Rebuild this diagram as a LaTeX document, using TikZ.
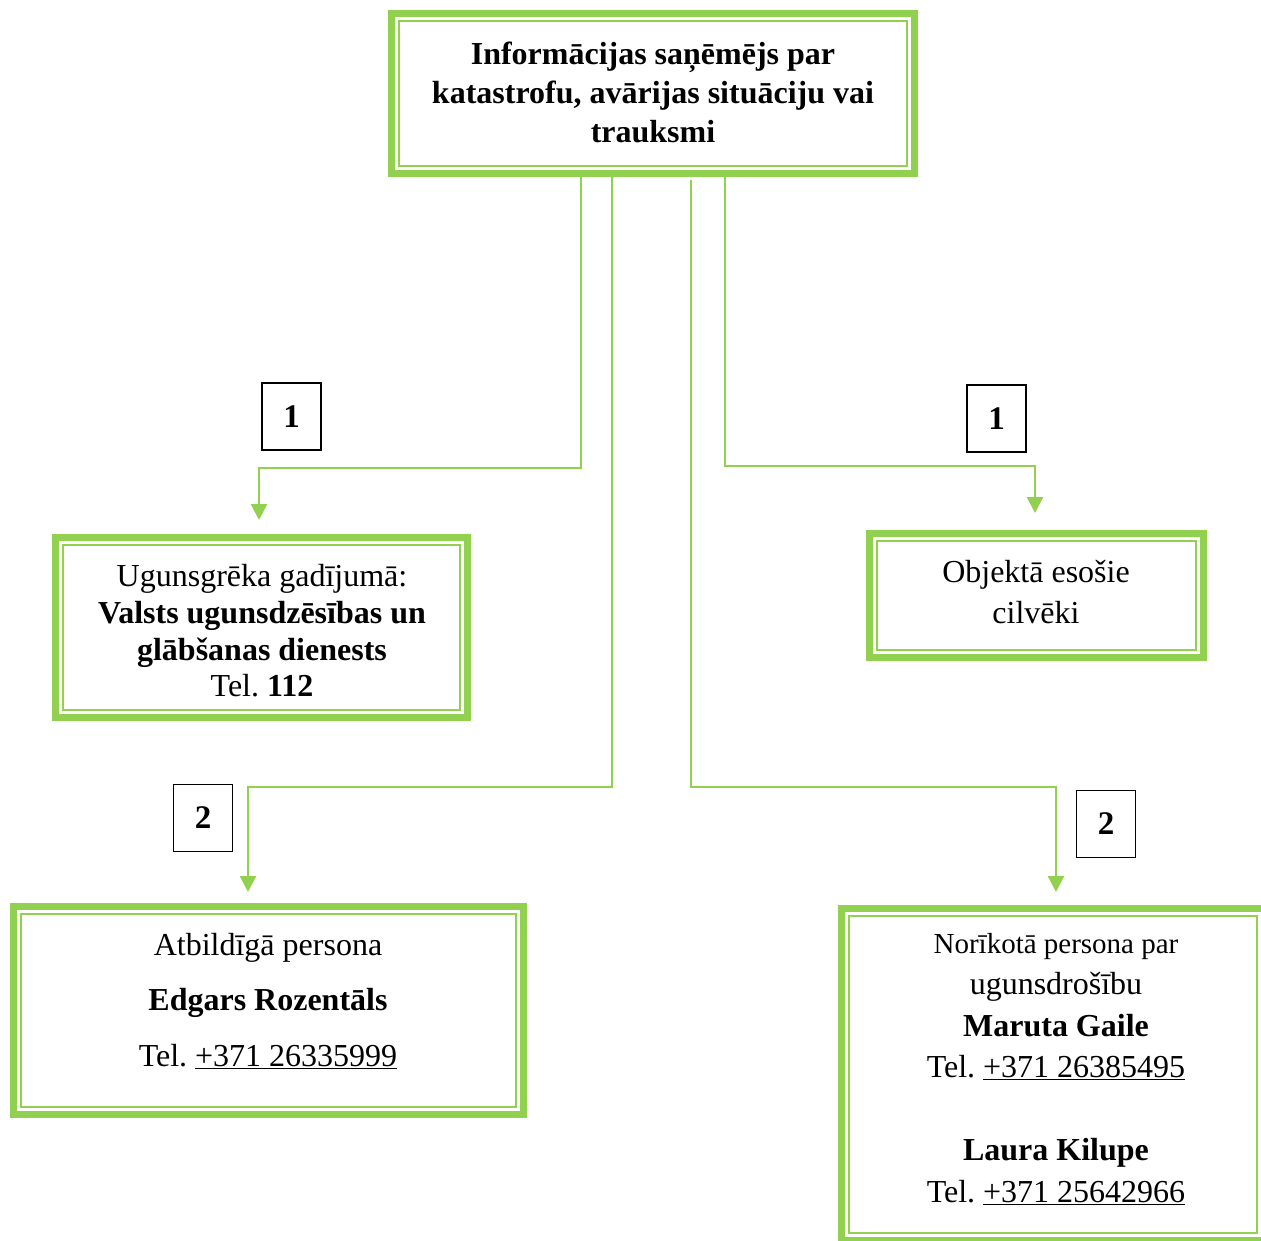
\documentclass[tikz,border=0pt]{standalone}
\usepackage{fontspec}
\setmainfont{Liberation Serif}
\usetikzlibrary{arrows.meta}
\frenchspacing
\definecolor{lgreen}{HTML}{92D050}
\tikzset{
  gbox/.style={draw=lgreen, line width=7pt, fill=white, inner sep=0pt, outer sep=0pt},
  thinframe/.style={draw=lgreen, line width=2pt},
  conn/.style={draw=lgreen, line width=2.6pt, -{Triangle[width=16pt,length=16pt]}},
  numbox/.style={draw=black, line width=1.8pt, inner sep=0pt, outer sep=0pt,
    minimum width=59pt, minimum height=67pt, font=\fontsize{33}{38}\selectfont\bfseries},
  txt/.style={align=center, inner sep=0pt, outer sep=0pt},
}
\begin{document}
\begin{tikzpicture}[x=1pt,y=-1pt]
\useasboundingbox (0,0) rectangle (1261,1240);
\clip (0,0) rectangle (1261,1240);

% boxes (frames)
\node[gbox, minimum width=523pt, minimum height=160pt] (top) at (653,93.5) {};
\node[gbox, minimum width=412pt, minimum height=180pt] (fire) at (261.5,627.5) {};
\node[gbox, minimum width=334pt, minimum height=124pt] (obj) at (1036.5,595.5) {};
\node[gbox, minimum width=510pt, minimum height=208pt] (atb) at (268.5,1010.5) {};
\node[gbox, minimum width=423pt, minimum height=332pt] (nor) at (1053,1074.5) {};

\foreach \b in {top,fire,obj,atb,nor}{
  \draw[thinframe] ([shift={(7.5,7.5)}]\b.north west) rectangle ([shift={(-7.5,-7.5)}]\b.south east);
}

% connector bend points
\coordinate (k1) at (581,468);   \coordinate (k1e) at (259,468);
\coordinate (k2) at (725,466);   \coordinate (k2e) at (1035,466);
\coordinate (k3) at (612,787);   \coordinate (k3e) at (248,787);
\coordinate (k4s) at (691,180);  \coordinate (k4) at (691,787); \coordinate (k4e) at (1056,787);

\draw[conn, shorten >=17.5pt] (top.south -| k1) -- (k1) -- (k1e) -- (fire.north -| k1e);
\draw[conn, shorten >=20.5pt] (top.south -| k2) -- (k2) -- (k2e) -- (obj.north -| k2e);
\draw[conn, shorten >=14.5pt] (top.south -| k3) -- (k3) -- (k3e) -- (atb.north -| k3e);
\draw[conn, shorten >=16.5pt] (k4s) -- (k4) -- (k4e) -- (nor.north -| k4e);

% number boxes
\node[numbox] (n1a) at (291.5,416.5) {1};
\node[numbox] (n1b) at (996.5,418.5) {1};
\node[numbox] (n2a) at (203,818) {2};
\node[numbox] (n2b) at (1106,824) {2};

% texts
\node[txt, font=\fontsize{32}{39}\selectfont\bfseries] (toptxt) at (653,92)
  {Informācijas saņēmējs par\\katastrofu, avārijas situāciju vai\\trauksmi};
\node[txt, font=\fontsize{32}{36.7}\selectfont] (firetxt) at (262,631)
  {Ugunsgrēka gadījumā:\\\textbf{Valsts ugunsdzēsības un}\\\textbf{glābšanas dienests}\\Tel. \textbf{112}};
\node[txt, font=\fontsize{32}{41}\selectfont] (objtxt) at (1036,592.5)
  {Objektā esošie\\cilvēki};
\node[txt, font=\fontsize{32}{55.5}\selectfont] (atbtxt) at (268,1001)
  {Atbildīgā persona\\\textbf{Edgars Rozentāls}\\Tel. \underline{+371 26335999}};
\node[txt, font=\fontsize{32}{41.5}\selectfont] (nortxt) at (1056,1069)
  {\fontsize{29}{41.5}\selectfont Norīkotā persona par\\ugunsdrošību\\
   \fontsize{32}{41.5}\selectfont\textbf{Maruta Gaile}\\Tel. \underline{+371 26385495}\\\mbox{}\\
   \textbf{Laura Kilupe}\\Tel. \underline{+371 25642966}};
\end{tikzpicture}
\end{document}
